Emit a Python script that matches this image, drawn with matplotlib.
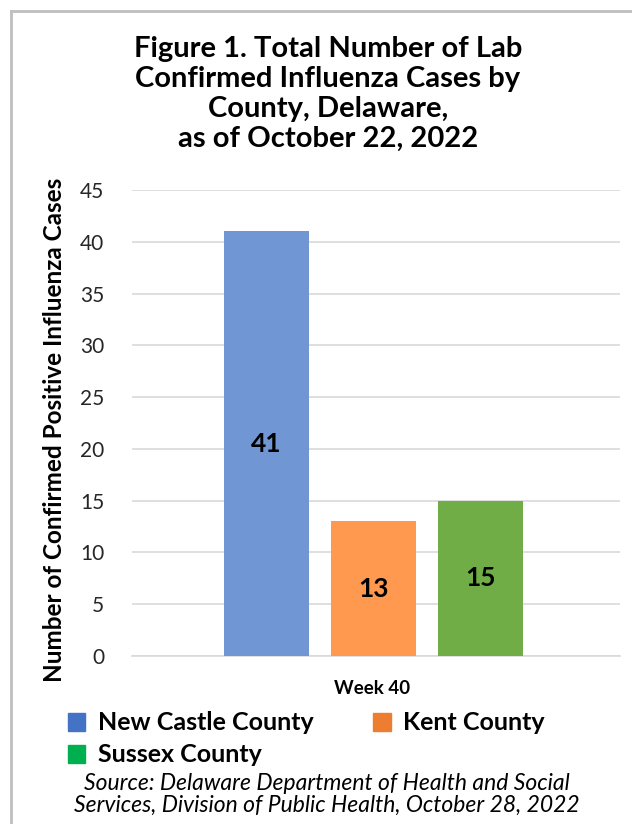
import matplotlib.pyplot as plt
from matplotlib.patches import Patch

# Data
counties = ['New Castle County', 'Kent County', 'Sussex County']
cases = [41, 13, 15]
week_label = 'Week 40'
bar_colors = ['#7096D4', '#FF9950', '#70AD47']
legend_colors = ['#4472C4', '#ED7D31', '#00B050']

plt.rcParams['font.family'] = ['Lato', 'DejaVu Sans']

fig = plt.figure(figsize=(6.32, 8.24), dpi=100)
W, H = 632, 824
ax = fig.add_axes([132 / W, 1 - 656 / H, (620 - 132) / W, (656 - 190) / H])

# bars grouped around one category
width = 85 / 488
step = 107 / 488
xs = [0.5 + (i - 1) * step - 0.005 for i in range(len(cases))]
bars = ax.bar(xs, cases, width=width, color=bar_colors, zorder=3)
for x, v in zip(xs, cases):
    ax.text(x, v / 2, str(v), ha='center', va='center', fontsize=19,
            fontweight='bold', color='black', zorder=4)

ax.set_xlim(0, 1)
ax.set_ylim(0, 45)
ax.set_yticks(range(0, 46, 5))
ax.tick_params(axis='y', length=0, labelsize=15, pad=20, colors='#262626')
ax.set_xticks([])
ax.yaxis.grid(True, color='#D9D9D9', linewidth=1.2, zorder=0)
for s in ['top', 'right', 'left']:
    ax.spines[s].set_visible(False)
ax.spines['bottom'].set_color('#D9D9D9')
ax.spines['bottom'].set_linewidth(1.2)

fig.text(372 / W, 1 - 689 / H, week_label, ha='center', va='center',
         fontsize=13.5, fontweight='bold')
fig.text(55 / W, 1 - 430 / H, 'Number of Confirmed Positive Influenza Cases',
         rotation=90, ha='center', va='center', fontsize=17.5, fontweight='bold')

fig.text(328 / W, 1 - 94 / H,
         'Figure 1. Total Number of Lab\nConfirmed Influenza Cases by\nCounty, Delaware,\nas of October 22, 2022',
         ha='center', va='center', fontsize=21, fontweight='bold', linespacing=1.2)

# legend
handles = [Patch(color=c) for c in legend_colors]
fig.legend(handles[:2], counties[:2], loc='center left', bbox_to_anchor=(45 / W, 1 - 723 / H),
           ncol=2, frameon=False, prop={'size': 18, 'weight': 'bold'},
           handlelength=0.7, handleheight=0.7, handletextpad=0.5, columnspacing=2.4)
fig.legend(handles[2:], counties[2:], loc='center left', bbox_to_anchor=(45 / W, 1 - 755 / H),
           frameon=False, prop={'size': 18, 'weight': 'bold'},
           handlelength=0.7, handleheight=0.7, handletextpad=0.5)

fig.text(327 / W, 1 - 794 / H,
         'Source: Delaware Department of Health and Social\nServices, Division of Public Health, October 28, 2022',
         ha='center', va='center', fontsize=16.5, style='italic', linespacing=1.05)

# chart border (left and top visible)
fig.add_artist(plt.Line2D([11 / W, 11 / W], [0, 1 - 11 / H], color='#BFBFBF', linewidth=2,
                          transform=fig.transFigure))
fig.add_artist(plt.Line2D([11 / W, 1], [1 - 11 / H, 1 - 11 / H], color='#BFBFBF', linewidth=2,
                          transform=fig.transFigure))

fig.savefig('out.png', dpi=100)
